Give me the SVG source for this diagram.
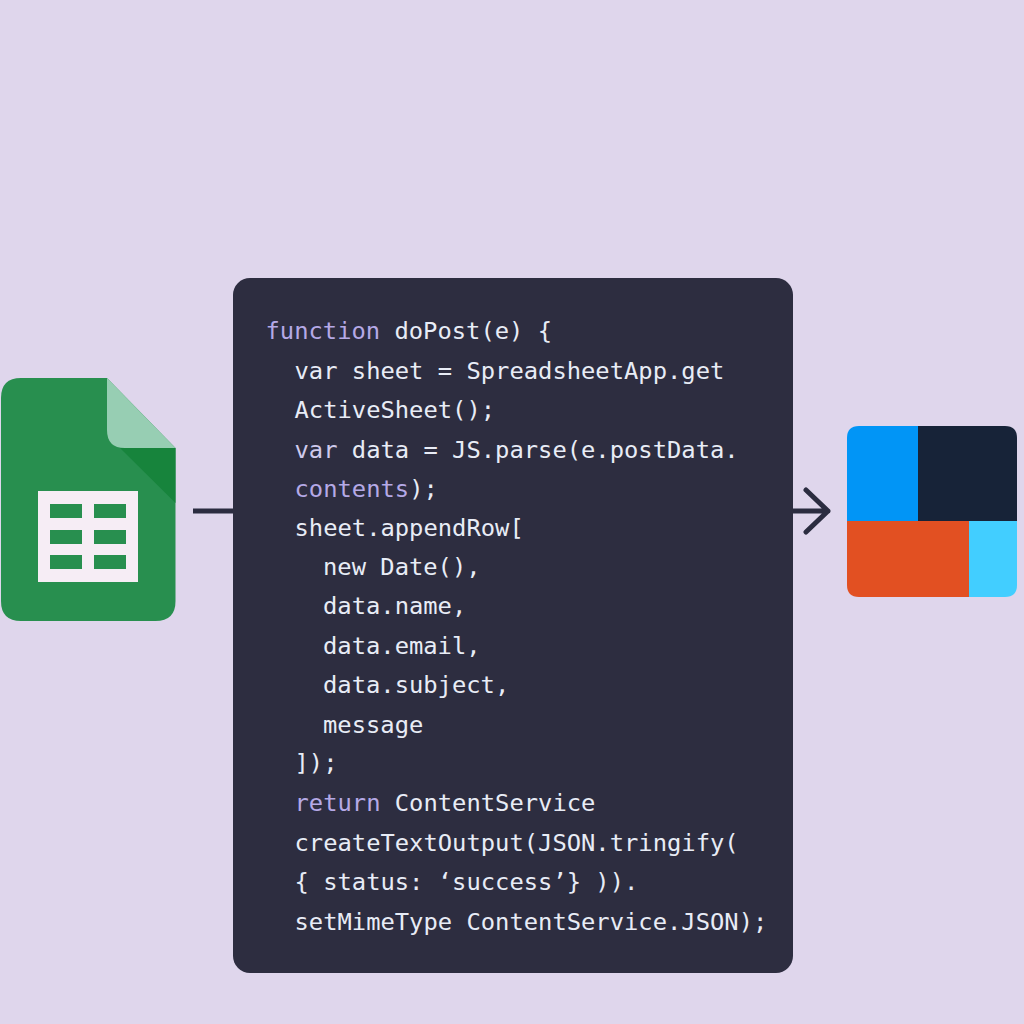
<svg xmlns="http://www.w3.org/2000/svg" width="1024" height="1024" viewBox="0 0 1024 1024">
<style>
.c{font-family:"DejaVu Sans Mono","Liberation Mono",monospace;font-size:23.8px;fill:#e8ecf6;white-space:pre}
.k{fill:#b5a9e6}
.p{fill:#cfcaec}
.l{fill:none;stroke:#2b2c40;stroke-width:5;stroke-linejoin:round}
</style>
<rect width="1024" height="1024" fill="#dfd6ec"/>
<g id="connectors">
<path class="l" d="M193 511H236"/>
<path class="l" stroke-linecap="round" d="M790 511H828M806 490L828 511L806 532"/>
</g>
<g id="sheets">
<path d="M21 378H107L175.500 448V601Q175.500 621 155.500 621H21Q1 621 1 601V398Q1 378 21 378Z" fill="#288f4f"/>
<path d="M120 448H175.500V503Z" fill="#17843c"/>
<path d="M107 378L175.500 448H125Q107 448 107 430Z" fill="#97ceb3"/>
<rect x="38" y="491" width="100" height="91" fill="#f6edf5"/>
<g fill="#288f4f">
<rect x="50" y="504" width="32" height="14"/><rect x="94" y="504" width="32" height="14"/>
<rect x="50" y="530" width="32" height="14"/><rect x="94" y="530" width="32" height="14"/>
<rect x="50" y="555" width="32" height="14"/><rect x="94" y="555" width="32" height="14"/>
</g>
</g>
<g id="code">
<rect x="233" y="278" width="560" height="695" rx="17" fill="#2d2d40"/>
<text class="c" x="265.500" y="339"><tspan class="k">function</tspan> doPost(e) {</text>
<text class="c" x="294.500" y="379">var sheet = SpreadsheetApp.get</text>
<text class="c" x="294.500" y="418">ActiveSheet();</text>
<text class="c" x="294.500" y="458"><tspan class="p">var</tspan> data = JS.parse(e.postData.</text>
<text class="c" x="294.500" y="497"><tspan class="k">contents</tspan>);</text>
<text class="c" x="294.500" y="536">sheet.appendRow[</text>
<text class="c" x="323" y="575">new Date(),</text>
<text class="c" x="323" y="614">data.name,</text>
<text class="c" x="323" y="654">data.email,</text>
<text class="c" x="323" y="693">data.subject,</text>
<text class="c" x="323" y="733">message</text>
<text class="c" x="294.500" y="771">]);</text>
<text class="c" x="294.500" y="811"><tspan class="k">return</tspan> ContentService</text>
<text class="c" x="294.500" y="851">createTextOutput(JSON.tringify(</text>
<text class="c" x="294.500" y="890">{ status: ‘success’} )).</text>
<text class="c" x="294.500" y="930">setMimeType ContentService.JSON);</text>
</g>
<g id="logo">
<path d="M859 426H918V521H847V438Q847 426 859 426Z" fill="#0195f6"/>
<path d="M918 426H1005Q1017 426 1017 438V521H918Z" fill="#172338"/>
<path d="M847 521H969V597H859Q847 597 847 585Z" fill="#e25022"/>
<path d="M969 521H1017V585Q1017 597 1005 597H969Z" fill="#42ceff"/>
</g>
</svg>
